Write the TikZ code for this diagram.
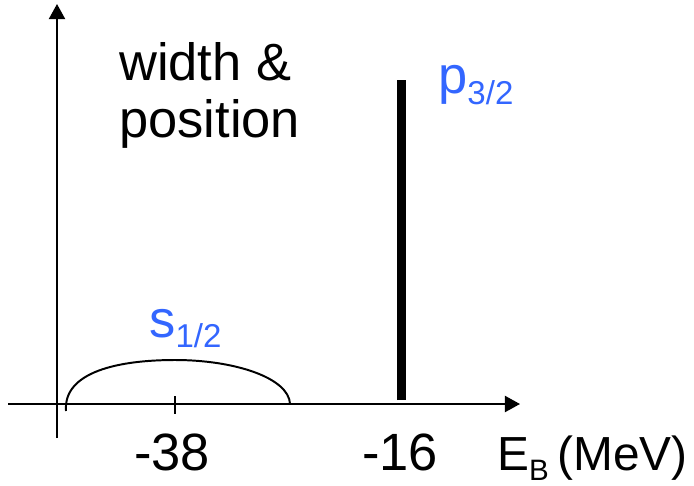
\documentclass[tikz,border=0pt]{standalone}
\usepackage{fontspec}
\setmainfont{Liberation Sans}
\usetikzlibrary{positioning,arrows.meta}
\definecolor{LevelBlue}{RGB}{51,102,255}
\newcommand{\levelsub}[2][23.5]{\raisebox{-7.5pt}{\fontsize{#1}{26}\selectfont #2}}

\begin{document}
\begin{tikzpicture}[
      x=0.025cm, y=-0.025cm,
      axis/.style={line width=1.4pt, black},
      axisarrow/.style={axis, -{Triangle[length=10.7pt, width=11.4pt]}},
      label/.style={font=\fontsize{37.3}{40.5}\selectfont, inner sep=0pt},
      level/.style={label, text=LevelBlue},
      peak/.style={line width=6.4pt, black},
      broad/.style={line width=1.4pt, black}
    ]
      \useasboundingbox (0,0) rectangle (694,485);

      % axes
      \coordinate (origin) at (57,404);
      \coordinate (ybottom) at (57,438);
      \coordinate (ytop) at (57,4);
      \coordinate (xleft) at (8,404);
      \coordinate (xright) at (520,404);
      \draw[axisarrow] (ybottom) -- (ytop);
      \draw[axisarrow] (xleft) -- (xright);

      % tick at -38
      \coordinate (tickup) at (175,396);
      \coordinate (tickdown) at (175,414);
      \draw[axis] (tickup) -- (tickdown);

      % broad s level
      \coordinate (sleft) at (66,411);
      \coordinate (stop) at (175,360);
      \coordinate (sright) at (290,404);
      \draw[broad] (sleft) .. controls (63,372) and (118,360) .. (stop)
                   .. controls (235,360) and (289,378) .. (sright);

      % sharp p level
      \coordinate (pbottom) at (401.5,400);
      \coordinate (ptop) at (401.5,80);
      \draw[peak] (pbottom) -- (ptop);

      % labels
      \node[label, anchor=north west, align=left] (title) at (119,42) {width \&\\position};
      \node[level, anchor=base west] (plabel) at (438,94) {p\levelsub{3/2}};
      \node[level, anchor=base west] (slabel) at (149,337) {s\levelsub{1/2}};
      \node[label, anchor=base] (m38) at (172,470) {-38};
      \node[label, anchor=base] (m16) at (400,470) {-16};
      \node[label, font=\fontsize{34}{38}\selectfont, anchor=base west] (eaxis) at (497,470) {E\levelsub[21]{B}\hspace{0.18em}(MeV)};
    \end{tikzpicture}
\end{document}
